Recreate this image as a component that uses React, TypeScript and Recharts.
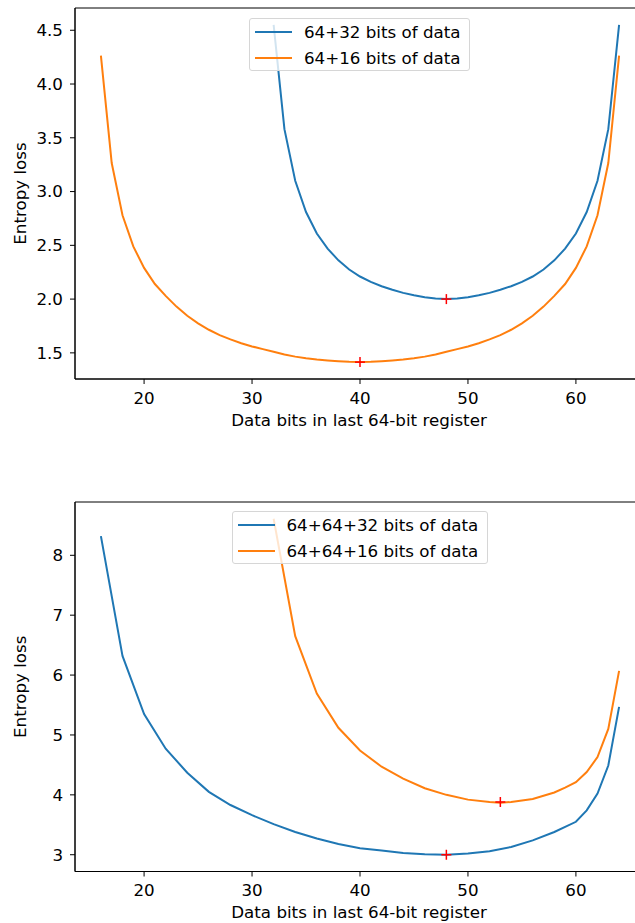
import {
  ComposedChart,
  Line,
  Scatter,
  XAxis,
  YAxis,
  ReferenceArea,
} from 'recharts'

// --- data ---
const xTicks = [20, 30, 40, 50, 60]

// top panel
const top32X = [32, 33, 34, 35, 36, 37, 38, 39, 40, 41, 42, 43, 44, 45, 46, 47, 48, 49, 50, 51, 52, 53, 54, 55, 56, 57, 58, 59, 60, 61, 62, 63, 64]
const top32Y = [4.55, 3.58, 3.1, 2.81, 2.61, 2.47, 2.36, 2.275, 2.21, 2.16, 2.12, 2.087, 2.058, 2.035, 2.017, 2.005, 2.0, 2.005, 2.017, 2.035, 2.058, 2.087, 2.12, 2.16, 2.21, 2.275, 2.36, 2.47, 2.61, 2.81, 3.1, 3.58, 4.55]
const top16X = [16, 17, 18, 19, 20, 21, 22, 23, 24, 25, 26, 27, 28, 29, 30, 31, 32, 33, 34, 35, 36, 37, 38, 39, 40, 41, 42, 43, 44, 45, 46, 47, 48, 49, 50, 51, 52, 53, 54, 55, 56, 57, 58, 59, 60, 61, 62, 63, 64]
const top16Y = [4.265, 3.265, 2.78, 2.49, 2.29, 2.14, 2.03, 1.93, 1.845, 1.775, 1.715, 1.665, 1.625, 1.59, 1.56, 1.535, 1.51, 1.485, 1.465, 1.45, 1.438, 1.43, 1.423, 1.417, 1.414, 1.417, 1.423, 1.43, 1.438, 1.45, 1.465, 1.485, 1.51, 1.535, 1.56, 1.59, 1.625, 1.665, 1.715, 1.775, 1.845, 1.93, 2.03, 2.14, 2.29, 2.49, 2.78, 3.265, 4.265]
const topMinX = [48, 40]
const topMinY = [2.0, 1.414]
const topTicks = [1.5, 2.0, 2.5, 3.0, 3.5, 4.0, 4.5]
const topLabels = ['64+32 bits of data', '64+16 bits of data']

// bottom panel
const bot32X = [16, 18, 20, 22, 24, 26, 28, 30, 32, 34, 36, 38, 40, 42, 44, 46, 48, 50, 52, 54, 56, 58, 60, 61, 62, 63, 64]
const bot32Y = [8.32, 6.32, 5.35, 4.77, 4.37, 4.05, 3.83, 3.66, 3.51, 3.38, 3.27, 3.18, 3.11, 3.07, 3.03, 3.01, 3.0, 3.02, 3.06, 3.13, 3.24, 3.38, 3.55, 3.74, 4.02, 4.49, 5.47]
const bot16X = [32, 34, 36, 38, 40, 42, 44, 46, 48, 50, 52, 53, 54, 56, 58, 59, 60, 61, 62, 63, 64]
const bot16Y = [8.61, 6.65, 5.69, 5.12, 4.74, 4.47, 4.27, 4.11, 4.0, 3.92, 3.88, 3.87, 3.88, 3.93, 4.04, 4.12, 4.21, 4.38, 4.63, 5.1, 6.07]
const botMinX = [48, 53]
const botMinY = [3.0, 3.88]
const botTicks = [3, 4, 5, 6, 7, 8]
const botLabels = ['64+64+32 bits of data', '64+64+16 bits of data']

const BLUE = '#1f77b4'
const ORANGE = '#ff7f0e'
const FONT = 'DejaVu Sans, sans-serif'
const FS = 16.7
const X_DOMAIN: [number, number] = [13.6, 66.4]

const zip = (xs: number[], ys: number[]) => xs.map((x, i) => ({ x, y: ys[i] }))

const Plus = (props: any) => {
  const { cx, cy } = props
  return (
    <g stroke="red" strokeWidth={1.5}>
      <line x1={cx - 5} y1={cy} x2={cx + 5} y2={cy} />
      <line x1={cx} y1={cy - 5} x2={cx} y2={cy + 5} />
    </g>
  )
}

type PanelProps = {
  top: number
  plotHeight: number
  blue: { x: number; y: number }[]
  orange: { x: number; y: number }[]
  mins: { x: number; y: number }[]
  yDomain: [number, number]
  yTicks: number[]
  yFmt: (v: number) => string
  labels: string[]
  legend: { left: number; top: number; width: number }
}

const Panel = (p: PanelProps) => {
  const xHeight = 52
  const height = 8 + p.plotHeight + xHeight
  return (
    <div style={{ position: 'absolute', left: 0, top: p.top }}>
      <ComposedChart
        width={650}
        height={height}
        margin={{ top: 8, right: 5, left: 0, bottom: 0 }}
      >
        <XAxis
          dataKey="x"
          type="number"
          domain={X_DOMAIN}
          allowDataOverflow
          ticks={xTicks}
          height={xHeight}
          tickSize={5}
          tickMargin={8}
          stroke="#000"
          tick={{ fill: '#000', fontSize: FS, fontFamily: FONT }}
          label={{
            content: (lp: any) => {
              const vb = lp.viewBox
              return (
                <text
                  x={359}
                  y={vb.y + 46.5}
                  textAnchor="middle"
                  fontSize={FS}
                  fontFamily={FONT}
                  fill="#000"
                >
                  Data bits in last 64-bit register
                </text>
              )
            },
          }}
        />
        <YAxis
          dataKey="y"
          type="number"
          domain={p.yDomain}
          allowDataOverflow
          ticks={p.yTicks}
          tickFormatter={p.yFmt}
          width={75}
          tickSize={5}
          tickMargin={7}
          stroke="#000"
          tick={{ fill: '#000', fontSize: FS, fontFamily: FONT }}
          label={{
            content: (lp: any) => {
              const vb = lp.viewBox
              const cy = vb.y + vb.height / 2
              return (
                <text
                  x={20}
                  y={cy}
                  transform={`rotate(-90, 20, ${cy})`}
                  textAnchor="middle"
                  dominantBaseline="central"
                  fontSize={FS}
                  fontFamily={FONT}
                  fill="#000"
                >
                  Entropy loss
                </text>
              )
            },
          }}
        />
        <ReferenceArea
          x1={X_DOMAIN[0]}
          x2={X_DOMAIN[1]}
          y1={p.yDomain[0]}
          y2={p.yDomain[1]}
          fill="none"
          stroke="#000"
          strokeWidth={1}
        />
        <Line
          data={p.blue}
          dataKey="y"
          stroke={BLUE}
          strokeWidth={2}
          dot={false}
          type="linear"
          isAnimationActive={false}
        />
        <Line
          data={p.orange}
          dataKey="y"
          stroke={ORANGE}
          strokeWidth={2}
          dot={false}
          type="linear"
          isAnimationActive={false}
        />
        <Scatter
          data={p.mins}
          dataKey="y"
          shape={<Plus />}
          isAnimationActive={false}
        />
      </ComposedChart>
      <div
        style={{
          position: 'absolute',
          left: p.legend.left,
          top: p.legend.top,
          width: p.legend.width,
          height: 53,
          boxSizing: 'border-box',
          border: '1px solid #d6d6d6',
          borderRadius: 3,
          background: 'rgba(255,255,255,0.8)',
          fontFamily: FONT,
          fontSize: FS,
          color: '#000',
          padding: '0 0 0 5px',
        }}
      >
        {p.labels.map((t, i) => (
          <div
            key={t}
            style={{ display: 'flex', alignItems: 'center', height: 26 }}
          >
            <span
              style={{
                display: 'inline-block',
                width: 37,
                height: 2,
                background: i === 0 ? BLUE : ORANGE,
                marginRight: 12,
              }}
            />
            <span style={{ whiteSpace: 'nowrap' }}>{t}</span>
          </div>
        ))}
      </div>
    </div>
  )
}

const App = () => {
  return (
    <div
      style={{
        position: 'absolute',
        left: 0,
        top: 0,
        width: 635,
        height: 923,
        overflow: 'hidden',
        background: '#fff',
      }}
    >
      <Panel
        top={0}
        plotHeight={371}
        blue={zip(top32X, top32Y)}
        orange={zip(top16X, top16Y)}
        mins={zip(topMinX, topMinY)}
        yDomain={[1.257, 4.707]}
        yTicks={topTicks}
        yFmt={(v) => v.toFixed(1)}
        labels={topLabels}
        legend={{ left: 249, top: 17.5, width: 221 }}
      />
      <Panel
        top={493.5}
        plotHeight={369.5}
        blue={zip(bot32X, bot32Y)}
        orange={zip(bot16X, bot16Y)}
        mins={zip(botMinX, botMinY)}
        yDomain={[2.72, 8.89]}
        yTicks={botTicks}
        yFmt={(v) => String(v)}
        labels={botLabels}
        legend={{ left: 231.5, top: 17.2, width: 256.5 }}
      />
    </div>
  )
}

export default App
